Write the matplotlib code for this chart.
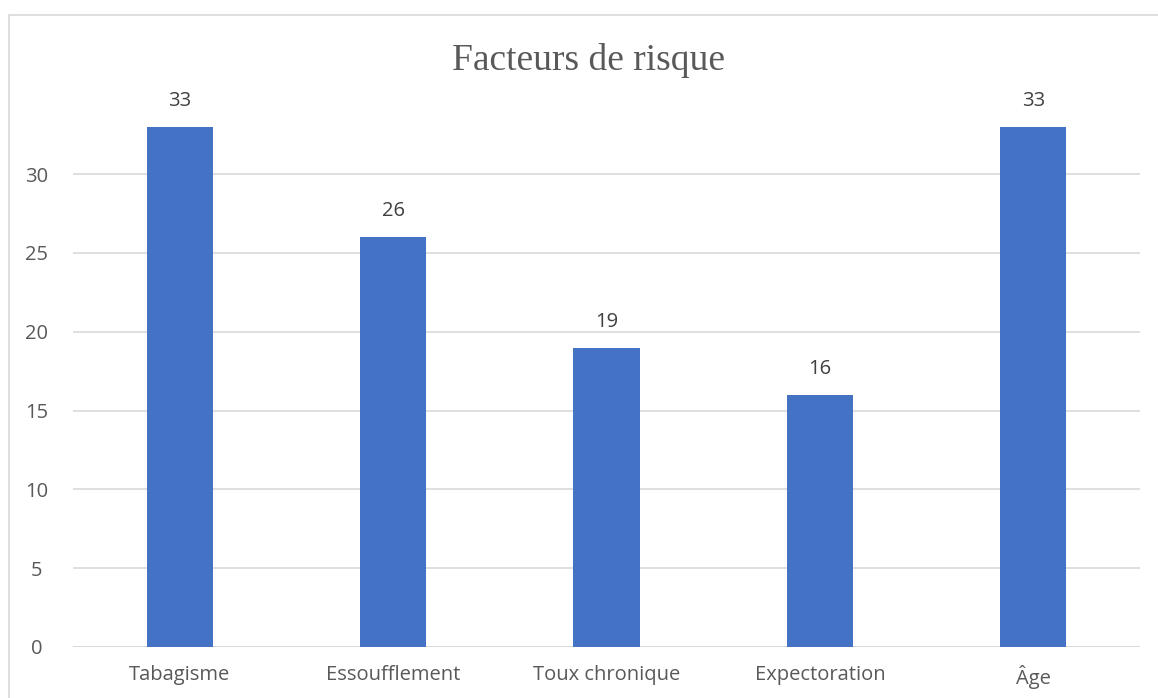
import matplotlib
matplotlib.use('Agg')
import matplotlib.pyplot as plt
from matplotlib.patches import Rectangle

categories = ['Tabagisme', 'Essoufflement', 'Toux chronique', 'Expectoration', 'Âge']
values = [33, 26, 19, 16, 33]
yticks = [0, 5, 10, 15, 20, 25, 30]

fig = plt.figure(figsize=(11.58, 6.98), dpi=100)
ax = fig.add_axes([73 / 1158, 1 - 647 / 698, (1140 - 73) / 1158, (647 - 119) / 698])

x = range(len(categories))
bars = ax.bar(x, values, width=0.31, color='#4472C4', zorder=3)
for b, v in zip(bars, values):
    ax.text(b.get_x() + b.get_width() / 2, v + 1.0, str(v), ha='center', va='bottom',
            fontsize=14.5, color='#404040', family='Open Sans')

ax.set_xlim(-0.5, len(categories) - 0.5)
ax.set_ylim(0, 33.5)
ax.set_yticks(yticks)
ax.set_xticks(list(x))
ax.set_xticklabels(categories)
ax.yaxis.grid(True, color='#D9D9D9', linewidth=1.2, zorder=0)
for s in ax.spines.values():
    s.set_visible(False)
ax.axhline(0, color='#D9D9D9', linewidth=1.2, zorder=1)
ax.tick_params(length=0, labelsize=14.5, labelcolor='#595959', pad=13)
ax.tick_params(axis='y', pad=26)
for lbl in ax.get_xticklabels() + ax.get_yticklabels():
    lbl.set_family('Open Sans')
for lbl in ax.get_yticklabels():
    lbl.set_horizontalalignment('center')

fig.text(589 / 1158, 1 - 61 / 698, 'Facteurs de risque', ha='center', va='center',
         fontsize=27, color='#595959', family='Liberation Serif')

# chart frame (cropped at right and bottom)
fig.patches.append(Rectangle((9 / 1158, -0.1), 1.2, 1.1 - 15 / 698, transform=fig.transFigure,
                             fill=False, edgecolor='#D9D9D9', linewidth=1.2))

fig.savefig('out.png', dpi=100)
